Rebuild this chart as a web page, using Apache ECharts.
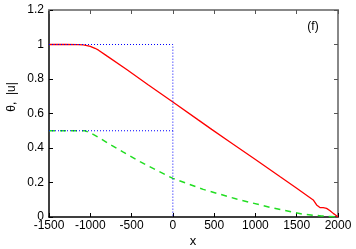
<!DOCTYPE html>
<html>
<head>
<meta charset="utf-8">
<script src="https://cdn.jsdelivr.net/npm/echarts@6/dist/echarts.min.js"></script>
<style>html,body{margin:0;padding:0;background:#fff}#c{width:356px;height:249px}</style>
</head>
<body>
<div id="c"></div>
<script>
var xTicks = [-1500, -1000, -500, 0, 500, 1000, 1500, 2000];
var yTicks = [0, 0.2, 0.4, 0.6, 0.8, 1, 1.2];
var thetaX = [-1500, -1300, -1150, -1085, -1040, -1000, -943, -900, -800, -559, -300, 0, 307, 470, 700, 1000, 1300, 1500, 1700, 1741, 1781, 1820, 1862, 1900, 1942, 1970, 1985, 2000];
var thetaY = [1.0, 1.0, 0.999, 0.998, 0.994, 0.989, 0.978, 0.967, 0.934, 0.855, 0.767, 0.667, 0.563, 0.508, 0.432, 0.333, 0.233, 0.167, 0.099, 0.07, 0.055, 0.054, 0.05, 0.038, 0.021, 0.012, 0.004, 0.0];
var uX = [-1500, -1200, -1064, -1000, -900, -741, -600, -398, -200, 0, 368, 772, 1176, 1579, 1800, 2000];
var uY = [0.5, 0.5, 0.5, 0.488, 0.462, 0.415, 0.376, 0.321, 0.272, 0.224, 0.16, 0.104, 0.056, 0.016, 0.006, 0.0];
var box1X = [-1500, 0, 0];
var box1Y = [1, 1, 0];
var box2X = [-1500, 0];
var box2Y = [0.5, 0.5];

function pairs(xs, ys) { return xs.map(function (x, i) { return [x, ys[i]]; }); }

var font = 'Liberation Sans, Arial, sans-serif';
var chart = echarts.init(document.getElementById('c'), null, {renderer: 'canvas'});
chart.setOption({
  animation: false,
  grid: {left: 49, right: 18, top: 10, bottom: 32},
  xAxis: [{
    type: 'value', min: xTicks[0], max: xTicks[xTicks.length - 1], interval: 500,
    axisLine: {onZero: false, lineStyle: {color: '#000', width: 1.5}},
    axisTick: {inside: true, length: 4, lineStyle: {color: '#000'}},
    axisLabel: {color: '#000', fontSize: 12, fontFamily: font, margin: 3,
      formatter: function (v) { return String(v); }},
    splitLine: {show: false}
  }, {
    type: 'value', position: 'top', min: xTicks[0], max: xTicks[xTicks.length - 1], interval: 500,
    axisLine: {show: true, onZero: false, lineStyle: {color: '#888', width: 2}},
    axisTick: {inside: true, length: 4, lineStyle: {color: '#555'}},
    axisLabel: {show: false}, splitLine: {show: false}
  }],
  yAxis: [{
    type: 'value', min: yTicks[0], max: yTicks[yTicks.length - 1], interval: 0.2,
    axisLine: {show: true, onZero: false, lineStyle: {color: '#000', width: 1.5}},
    axisTick: {show: true, inside: true, length: 4, lineStyle: {color: '#000'}},
    axisLabel: {color: '#000', fontSize: 12, fontFamily: font, margin: 5},
    splitLine: {show: false}
  }, {
    type: 'value', position: 'right', min: yTicks[0], max: yTicks[yTicks.length - 1], interval: 0.2,
    axisLine: {show: true, onZero: false, lineStyle: {color: '#888', width: 2}},
    axisTick: {show: true, inside: true, length: 4, lineStyle: {color: '#555'}},
    axisLabel: {show: false}, splitLine: {show: false}
  }],
  series: [{
    type: 'line', data: pairs(thetaX, thetaY), showSymbol: false,
    lineStyle: {color: '#ff0000', width: 1.3}
  }, {
    type: 'line', data: pairs(uX, uY), showSymbol: false,
    lineStyle: {color: '#22dd22', width: 1.5, type: [6, 5]}
  }, {
    type: 'line', data: pairs(box1X, box1Y), showSymbol: false,
    lineStyle: {color: '#0000ff', width: 1, type: [1, 2]}
  }, {
    type: 'line', data: pairs(box2X, box2Y), showSymbol: false,
    lineStyle: {color: '#0000ff', width: 1, type: [1, 2]}
  }],
  graphic: [{
    type: 'text', x: 313, y: 27,
    style: {text: '(f)', font: '12px ' + font, fill: '#000', align: 'center', verticalAlign: 'middle'}
  }, {
    type: 'text', x: 193, y: 241,
    style: {text: 'x', font: '13px ' + font, fill: '#000', align: 'center', verticalAlign: 'middle'}
  }, {
    type: 'text', x: 12, y: 97, rotation: Math.PI / 2,
    style: {text: 'θ,  |u|', font: '12px ' + font, fill: '#000', align: 'center', verticalAlign: 'middle'}
  }]
});
</script>
</body>
</html>
